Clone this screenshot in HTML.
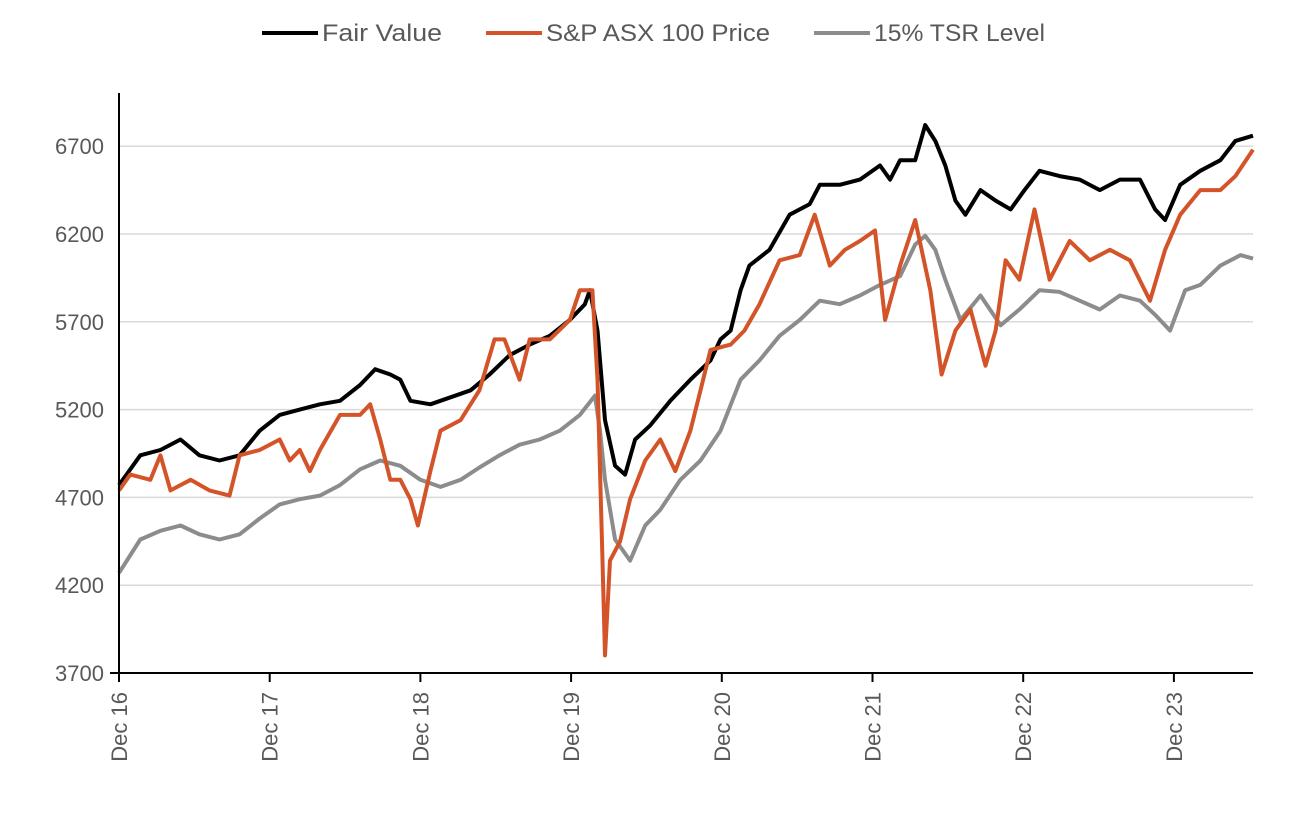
<!DOCTYPE html>
<html><head><meta charset="utf-8"><style>
body{margin:0;background:#fff;}
svg text{font-family:"Liberation Sans",sans-serif;fill:#595959;}
</style></head><body>
<svg id="chart" width="1302" height="816" xmlns="http://www.w3.org/2000/svg">
<g id="legend">
 <g><line x1="262" y1="33" x2="318" y2="33" stroke="#000" stroke-width="4"/><text x="322" y="41" font-size="24" textLength="120" lengthAdjust="spacingAndGlyphs">Fair Value</text></g>
 <g><line x1="486" y1="33" x2="542" y2="33" stroke="#D4542A" stroke-width="4"/><text x="546" y="41" font-size="24" textLength="224" lengthAdjust="spacingAndGlyphs">S&amp;P ASX 100 Price</text></g>
 <g><line x1="814" y1="33" x2="870" y2="33" stroke="#8C8C8C" stroke-width="4"/><text x="874" y="41" font-size="24" textLength="171" lengthAdjust="spacingAndGlyphs">15% TSR Level</text></g>
</g>
<g id="grid"></g>
<g id="yticks"></g>
<g id="xticks"></g>
<g id="series"></g>
<line x1="119" y1="93" x2="119" y2="673" stroke="#000" stroke-width="2"/>
<line x1="110" y1="673" x2="1253" y2="673" stroke="#000" stroke-width="2"/>
</svg>
<script>
const yTicks=[3700,4200,4700,5200,5700,6200,6700];
const xTickLabels=["Dec 16","Dec 17","Dec 18","Dec 19","Dec 20","Dec 21","Dec 22","Dec 23"];
const fvMonths=[0,1.7,3.3,4.9,6.4,8.0,9.6,11.2,12.8,14.4,16.0,17.6,19.2,20.4,21.6,22.4,23.2,24.8,26.4,28.0,29.5,31.1,32.7,34.3,35.9,37.1,37.5,38.1,38.7,39.5,40.3,41.1,42.3,43.9,45.5,47.1,47.9,48.7,49.5,50.2,51.8,53.4,55.0,55.8,57.4,59.0,60.6,61.4,62.2,63.4,64.2,65.0,65.8,66.6,67.4,68.6,69.8,71.0,72.1,73.3,74.9,76.5,78.1,79.7,81.3,82.5,83.3,84.5,86.1,87.7,88.9,90.3];
const fvValues=[4770,4940,4970,5030,4940,4910,4940,5080,5170,5200,5230,5250,5340,5430,5400,5370,5250,5230,5270,5310,5400,5510,5570,5620,5710,5800,5880,5650,5140,4880,4830,5030,5110,5250,5370,5480,5600,5650,5880,6020,6110,6310,6370,6480,6480,6510,6590,6510,6620,6620,6820,6730,6590,6390,6310,6450,6390,6340,6450,6560,6530,6510,6450,6510,6510,6340,6280,6480,6560,6620,6730,6760];
const pxMonths=[0,0.9,2.5,3.3,4.1,5.7,7.2,8.8,9.6,11.2,12.8,13.6,14.4,15.2,16.0,17.6,19.2,20.0,20.8,21.6,22.4,23.2,23.8,24.8,25.6,27.2,28.7,29.9,30.7,31.9,32.7,34.3,35.9,36.7,37.7,38.1,38.5,38.7,39.1,39.9,40.7,41.9,43.1,44.3,45.5,46.3,47.1,48.7,49.8,51.0,52.6,54.2,55.4,56.6,57.8,59.0,60.2,61.0,62.2,63.4,64.6,65.5,66.6,67.8,69.0,69.8,70.6,71.7,72.9,74.1,75.7,77.3,78.9,80.5,82.1,83.3,84.5,86.1,87.7,88.9,90.3];
const pxValues=[4740,4830,4800,4940,4740,4800,4740,4710,4940,4970,5030,4910,4970,4850,4970,5170,5170,5230,5030,4800,4800,4690,4540,4850,5080,5140,5310,5600,5600,5370,5600,5600,5710,5880,5880,5370,4340,3800,4340,4450,4690,4910,5030,4850,5080,5310,5540,5570,5650,5800,6050,6080,6310,6020,6110,6160,6220,5710,6020,6280,5880,5400,5650,5770,5450,5650,6050,5940,6340,5940,6160,6050,6110,6050,5820,6110,6310,6450,6450,6530,6680];
const tsrMonths=[0,1.7,3.3,4.9,6.4,8.0,9.6,11.2,12.8,14.4,16.0,17.6,19.2,20.8,22.4,24.0,25.6,27.2,28.7,30.3,31.9,33.5,35.1,36.7,37.9,38.3,38.7,39.5,40.7,41.9,43.1,44.7,46.3,47.9,49.5,51.0,52.6,54.2,55.8,57.4,59.0,60.6,62.2,63.4,64.2,65.0,65.8,67.0,68.6,70.2,71.7,73.3,74.9,76.5,78.1,79.7,81.3,82.5,83.7,84.9,86.1,87.7,89.3,90.3];
const tsrValues=[4270,4460,4510,4540,4490,4460,4490,4580,4660,4690,4710,4770,4860,4910,4880,4800,4760,4800,4870,4940,5000,5030,5080,5170,5280,5080,4800,4460,4340,4540,4630,4800,4910,5080,5370,5480,5620,5710,5820,5800,5850,5910,5960,6140,6190,6110,5940,5710,5850,5680,5770,5880,5870,5820,5770,5850,5820,5740,5650,5880,5910,6020,6080,6060];

const NS="http://www.w3.org/2000/svg";
const X0=119,PXM=150.7/12,Y0=673,PXV=87.8/500;
function xs(m){return X0+m*PXM;}
function ys(v){return Y0-(v-3700)*PXV;}
const grid=document.getElementById('grid'),yt=document.getElementById('yticks'),xt=document.getElementById('xticks'),ser=document.getElementById('series');
yTicks.forEach(v=>{
 if(v>3700){const l=document.createElementNS(NS,'line');
 l.setAttribute('x1',119);l.setAttribute('x2',1253);l.setAttribute('y1',ys(v));l.setAttribute('y2',ys(v));
 l.setAttribute('stroke','#D9D9D9');l.setAttribute('stroke-width','1.5');
 
 
 grid.appendChild(l);}
 const t=document.createElementNS(NS,'text');
 t.setAttribute('x',104);t.setAttribute('y',ys(v)+8);t.setAttribute('text-anchor','end');t.setAttribute('font-size','22');
 t.textContent=v;
 
 
 yt.appendChild(t);
});
xTickLabels.forEach((s,i)=>{
 const x=xs(i*12);
 const l=document.createElementNS(NS,'line');
 l.setAttribute('x1',x);l.setAttribute('x2',x);l.setAttribute('y1',673);l.setAttribute('y2',682);
 l.setAttribute('stroke','#000');l.setAttribute('stroke-width','2');
 
 
 xt.appendChild(l);
 const t=document.createElementNS(NS,'text');
 t.setAttribute('transform','translate('+(x+8)+',692) rotate(-90)');
 t.setAttribute('text-anchor','end');t.setAttribute('font-size','22');
 t.textContent=s;
 
 
 xt.appendChild(t);
});
function line(ms,vs,color,name){
 const p=document.createElementNS(NS,'polyline');
 p.setAttribute('points',ms.map((m,i)=>xs(m).toFixed(1)+','+ys(vs[i]).toFixed(1)).join(' '));
 p.setAttribute('fill','none');p.setAttribute('stroke',color);p.setAttribute('stroke-width','4');p.setAttribute('stroke-linejoin','round');
 
 
 ser.appendChild(p);
}
line(tsrMonths,tsrValues,'#8C8C8C','tsr-level-line');
line(fvMonths,fvValues,'#000000','fair-value-line');
line(pxMonths,pxValues,'#D4542A','asx100-price-line');
</script>
</body></html>
